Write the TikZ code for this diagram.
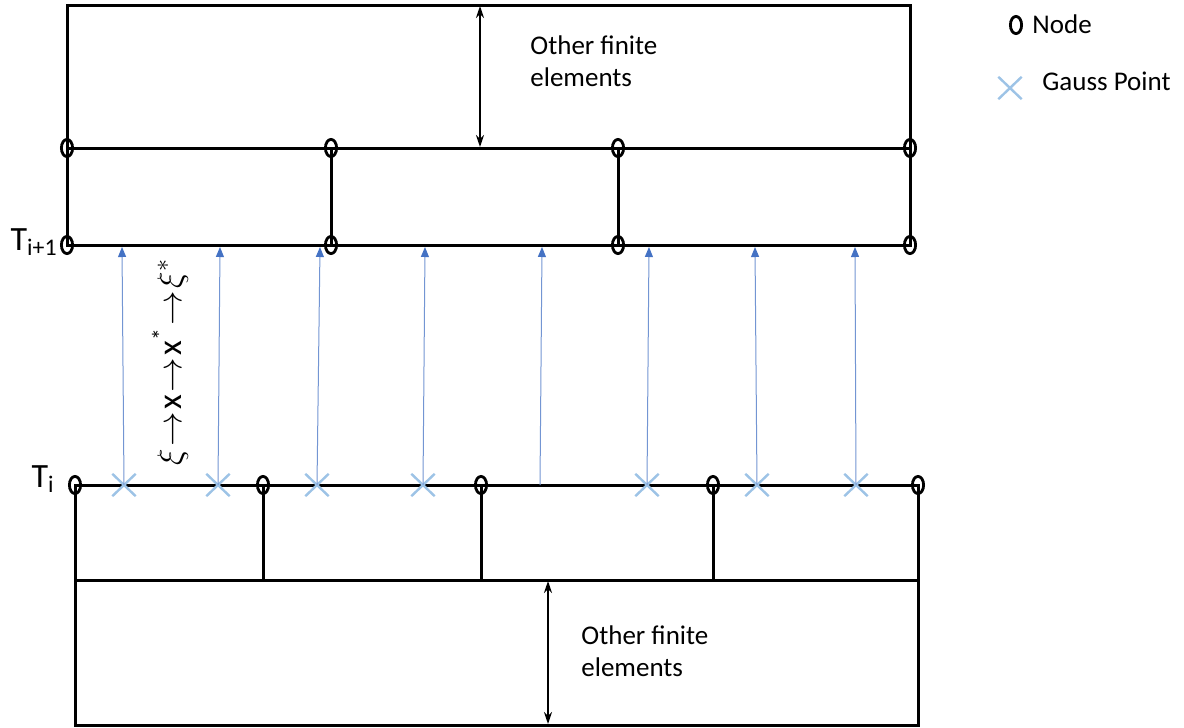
\documentclass[tikz,border=0pt]{standalone}
\usepackage{fontspec}
\setmainfont{Carlito}
\usetikzlibrary{shapes.geometric,shapes.misc,arrows.meta}
\definecolor{arrowblue}{HTML}{4472C4}
\definecolor{gaussblue}{HTML}{9DC3E6}
\newcommand\chainarrow{\kern1.2pt$\rightarrow$\kern1.2pt}
\begin{document}
\begin{tikzpicture}[x=0.5pt,y=-0.5pt,
  edge/.style={line width=1.5pt, line cap=rect},
  nd/.style={ellipse, draw, line width=1.4pt, minimum width=5.6pt, minimum height=8.6pt, inner sep=0pt},
  gp/.style={cross out, draw=gaussblue, line width=1.2pt, minimum width=10.5pt, minimum height=10pt, inner sep=0pt},
  map/.style={arrowblue!75, line width=0.5pt, -{Triangle[width=4pt,length=5pt,color=arrowblue]}},
  span/.style={line width=1pt, {Stealth[length=6pt,width=4pt]}-{Stealth[length=6pt,width=4pt]}},
  lbl/.style={font=\fontsize{13.5pt}{16pt}\selectfont, align=left, inner sep=0pt, anchor=north west},
  tlbl/.style={font=\fontsize{17pt}{20pt}\selectfont, inner sep=0pt, anchor=base east}
]
\useasboundingbox (0,0) rectangle (1184,728);

% nodes of the upper element row
\node[nd] (u1) at (67,148) {};
\node[nd] (u2) at (331,148) {};
\node[nd] (u3) at (618,148) {};
\node[nd] (u4) at (910,148) {};
\node[nd] (v1) at (67,245) {};
\node[nd] (v2) at (331,245) {};
\node[nd] (v3) at (618,245) {};
\node[nd] (v4) at (910,245) {};

% nodes of the lower element row
\node[nd] (w1) at (75,485) {};
\node[nd] (w2) at (263,485) {};
\node[nd] (w3) at (481,485) {};
\node[nd] (w4) at (713,485) {};
\node[nd] (w5) at (918,485) {};

% frame corners
\coordinate (c1) at (67,5);
\coordinate (c2) at (910,5);
\coordinate (d1) at (75,580);
\coordinate (d2) at (263,580);
\coordinate (d3) at (481,580);
\coordinate (d4) at (713,580);
\coordinate (d5) at (918,580);
\coordinate (e1) at (75,725);
\coordinate (e2) at (918,725);

% upper mesh
\draw[edge] (v1.center) -- (c1) -- (c2) -- (v4.center);
\draw[edge] (u1.center) -- (u4.center);
\draw[edge] (v1.center) -- (v4.center);
\draw[edge] (u2.center) -- (v2.center);
\draw[edge] (u3.center) -- (v3.center);

% lower mesh
\draw[edge] (w1.center) -- (w5.center);
\draw[edge] (d1) -- (d5);
\draw[edge] (w1.center) -- (e1) -- (e2) -- (w5.center);
\draw[edge] (w2.center) -- (d2);
\draw[edge] (w3.center) -- (d3);
\draw[edge] (w4.center) -- (d4);

% extent of the remaining elements
\coordinate (s1a) at (480,6);
\coordinate (s1b) at (480,147);
\coordinate (s2a) at (548,581);
\coordinate (s2b) at (548,724);
\draw[span] (s1a) -- (s1b);
\draw[span] (s2a) -- (s2b);
\node[lbl] (o1) at (530,35) {Other finite\\elements};
\node[lbl] (o2) at (581,625) {Other finite\\elements};

% Gauss points on T_i
\node[gp] (g1) at (124,485) {};
\node[gp] (g2) at (218,485) {};
\node[gp] (g3) at (317,485) {};
\node[gp] (g4) at (423,485) {};
\coordinate (g5) at (540,485);
\node[gp] (g6) at (647,485) {};
\node[gp] (g7) at (757,485) {};
\node[gp] (g8) at (856,485) {};

% their images on T_{i+1}
\coordinate (h1) at (122,247);
\coordinate (h2) at (220,247);
\coordinate (h3) at (320,247);
\coordinate (h4) at (425,247);
\coordinate (h5) at (542,247);
\coordinate (h6) at (649,247);
\coordinate (h7) at (755,247);
\coordinate (h8) at (855,247);
\foreach \k in {1,...,8} {
  \draw[map] (g\k.center) -- (h\k);
}

% interface labels
\node[tlbl] (ti1) at (58,250) {T\textsubscript{i+1}};
\node[tlbl] (ti) at (55,487) {T\textsubscript{i}};

% mapping chain
\node[rotate=90, font=\fontsize{17pt}{17pt}\selectfont, inner sep=0pt] (chain) at (170,362)
  {$\xi$\chainarrow x\chainarrow x\textsuperscript{*}\chainarrow$\xi^{*}$};

% legend
\node[nd] (ln) at (1016,25) {};
\node[lbl] (lnt) at (1032,14) {Node};
\node[gp] (lg) at (1010,88) {};
\node[lbl] (lgt) at (1042,72) {Gauss Point};
\end{tikzpicture}
\end{document}
